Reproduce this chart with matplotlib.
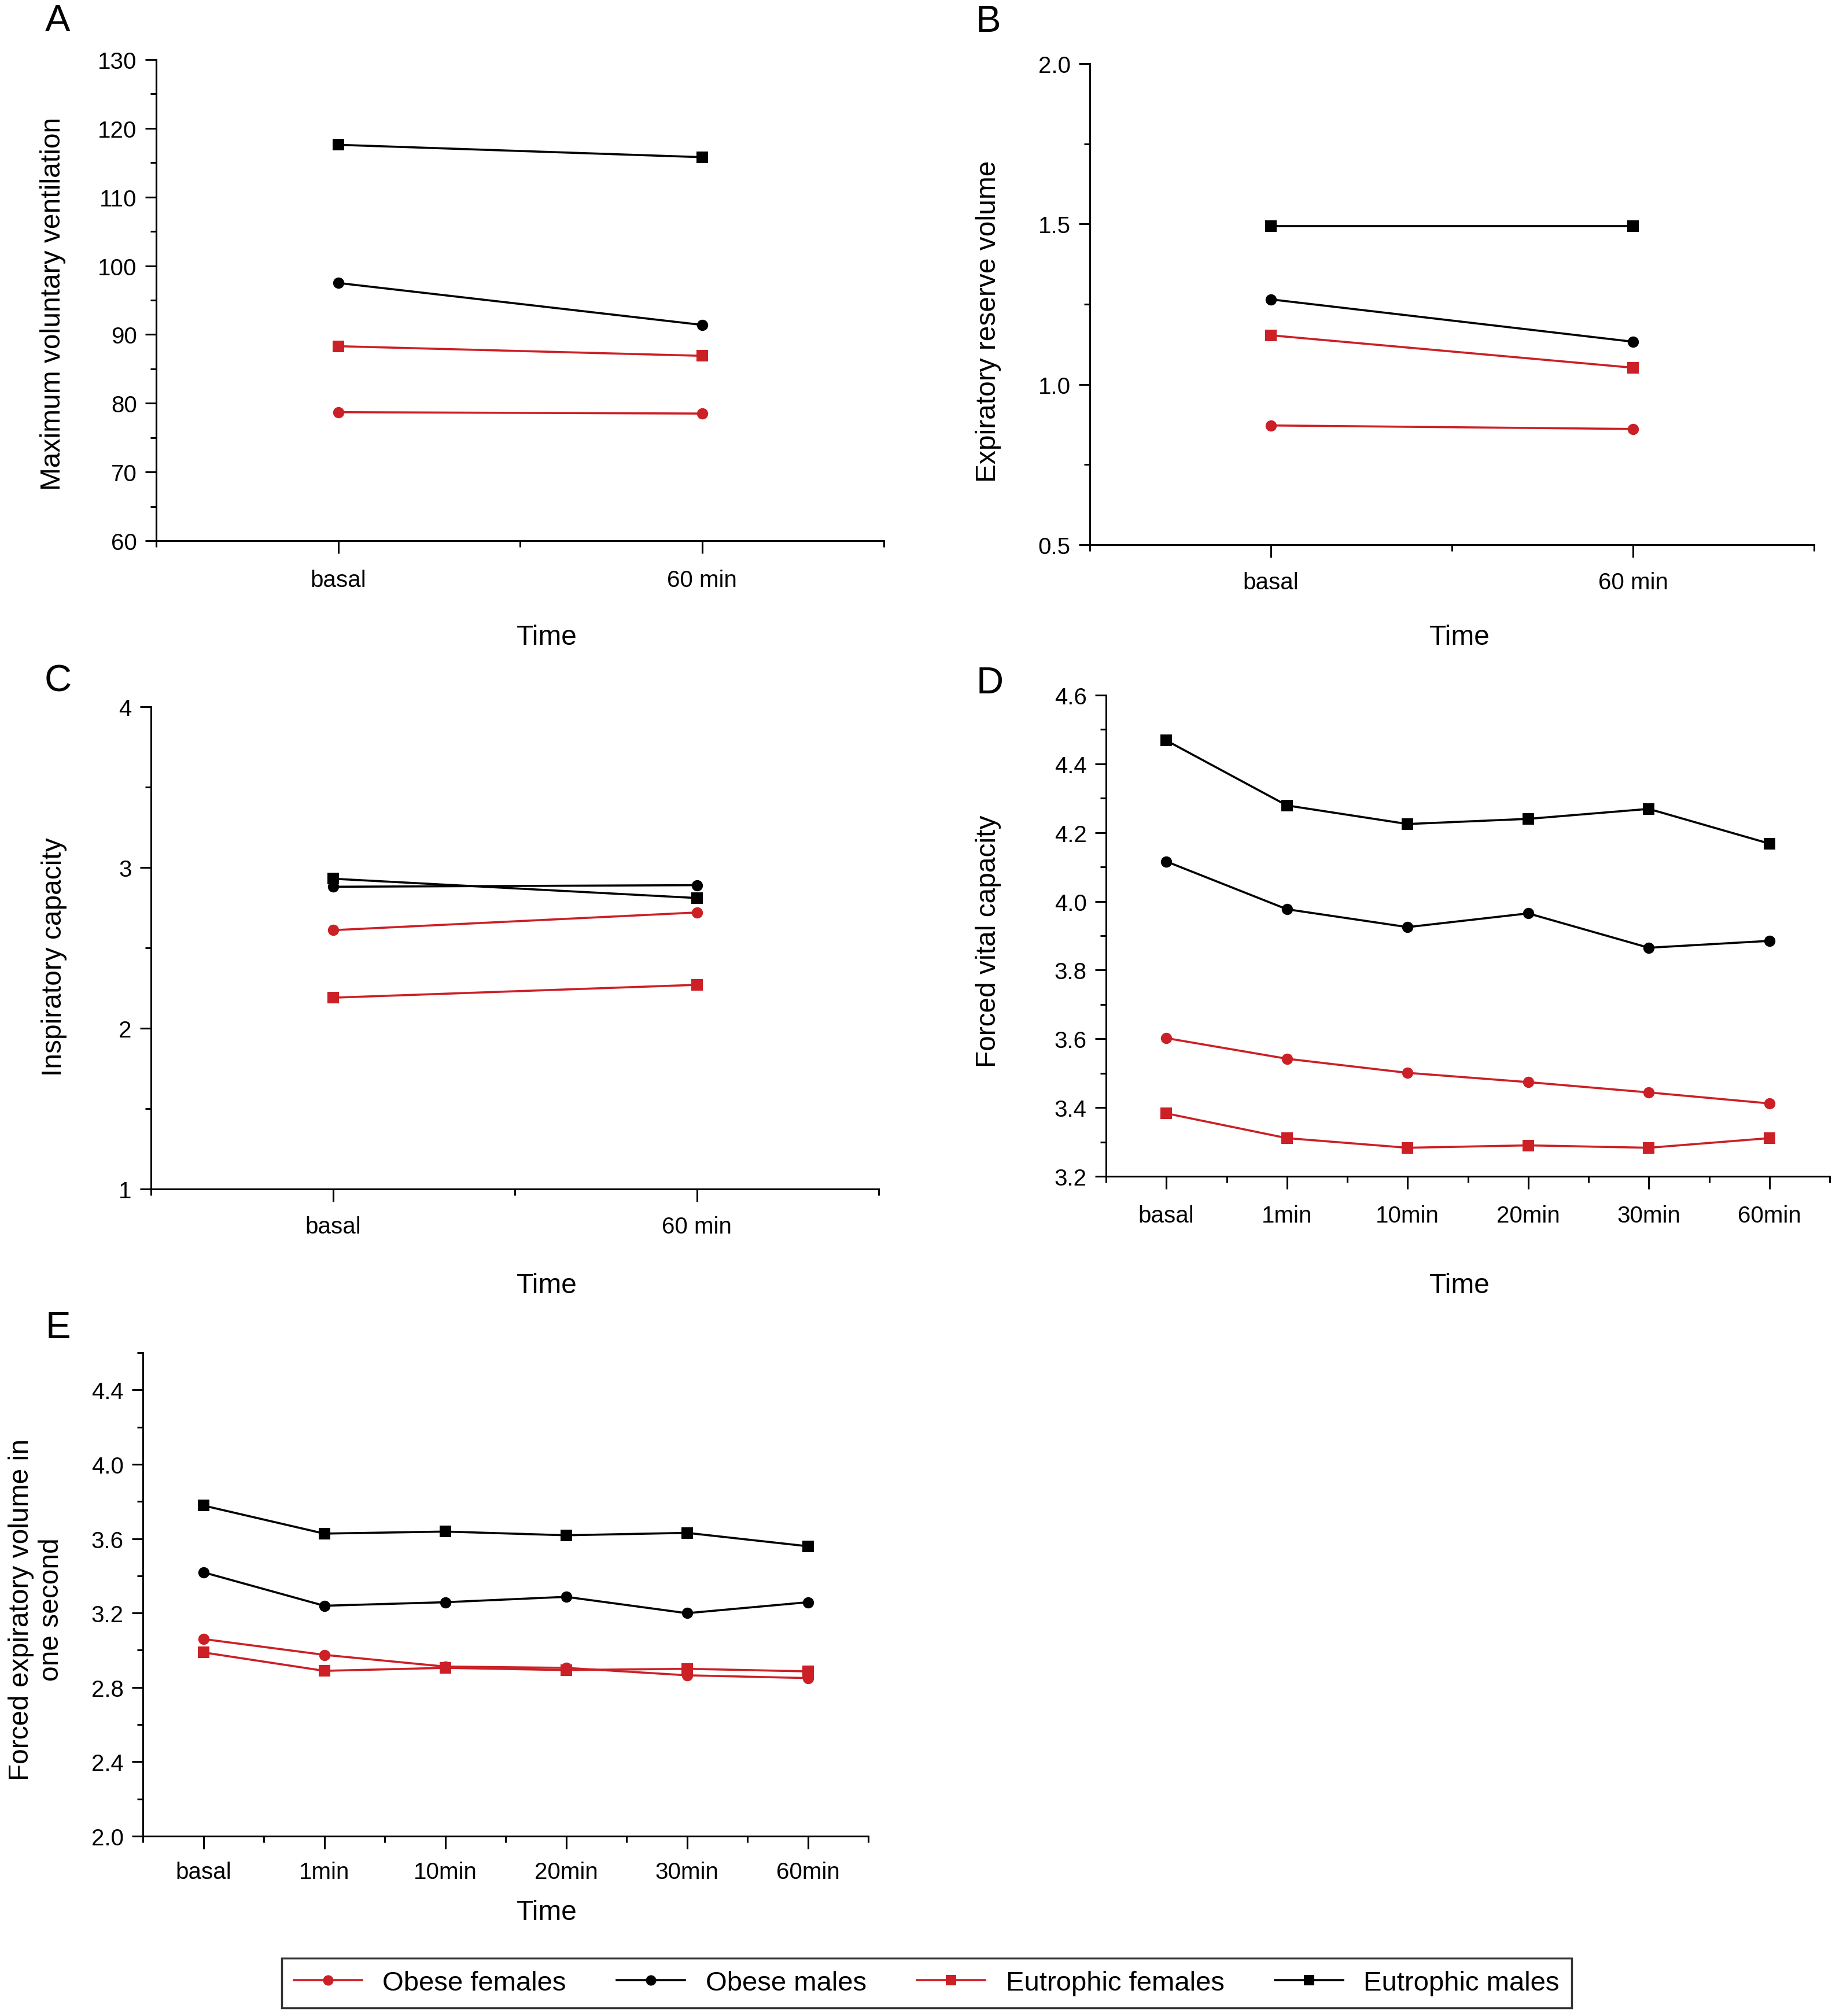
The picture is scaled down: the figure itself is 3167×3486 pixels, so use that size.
import numpy as np
import matplotlib
matplotlib.use('Agg')
import matplotlib.pyplot as plt
from matplotlib.ticker import MultipleLocator, FixedLocator, FormatStrFormatter
from matplotlib.lines import Line2D

plt.rcParams['font.family'] = ['Liberation Sans', 'DejaVu Sans']

RED = '#cc1f26'
BLACK = '#000000'

groups = ['Obese females', 'Obese males', 'Eutrophic females', 'Eutrophic males']
group_colors = [RED, BLACK, RED, BLACK]
group_markers = ['o', 'o', 's', 's']

times_short = ['basal', '60 min']
times_long = ['basal', '1min', '10min', '20min', '30min', '60min']

# A - maximum voluntary ventilation
mvv_obese_f = [78.7, 78.5]
mvv_obese_m = [97.5, 91.4]
mvv_eutro_f = [88.3, 86.9]
mvv_eutro_m = [117.6, 115.8]

# B - expiratory reserve volume
erv_obese_f = [0.872, 0.861]
erv_obese_m = [1.265, 1.133]
erv_eutro_f = [1.153, 1.052]
erv_eutro_m = [1.494, 1.494]

# C - inspiratory capacity
ic_obese_f = [2.61, 2.72]
ic_obese_m = [2.88, 2.89]
ic_eutro_f = [2.19, 2.27]
ic_eutro_m = [2.93, 2.81]

# D - forced vital capacity
fvc_obese_f = [3.602, 3.542, 3.501, 3.474, 3.444, 3.412]
fvc_obese_m = [4.116, 3.977, 3.925, 3.965, 3.865, 3.885]
fvc_eutro_f = [3.383, 3.311, 3.283, 3.290, 3.283, 3.311]
fvc_eutro_m = [4.468, 4.279, 4.225, 4.240, 4.269, 4.168]

# E - forced expiratory volume in one second
fev_obese_f = [3.060, 2.975, 2.912, 2.905, 2.865, 2.850]
fev_obese_m = [3.419, 3.239, 3.258, 3.287, 3.199, 3.258]
fev_eutro_f = [2.988, 2.889, 2.905, 2.893, 2.900, 2.886]
fev_eutro_m = [3.778, 3.627, 3.638, 3.618, 3.631, 3.559]


W, H, DPI = 3167, 3487, 100
fig = plt.figure(figsize=(W / DPI, H / DPI), dpi=DPI)


def px_axes(left, top, right, bottom):
    # axes rectangle given in pixel coords of the image
    return fig.add_axes([left / W, 1 - bottom / H, (right - left) / W, (bottom - top) / H])


def panel(ax, cats, series, ylim, major, minor, fmt, ylabel, ylab_pos, xlab_pos, xpad=19):
    x = np.arange(len(cats))
    # draw in reverse so black goes over red like the original
    for vals, c, m in list(zip(series, group_colors, group_markers))[::-1]:
        ax.plot(x, vals, color=c, marker=m, markersize=14, linewidth=2.6,
                markeredgewidth=0, clip_on=False)
    ax.set_xlim(-0.5, len(cats) - 0.5)
    ax.set_ylim(*ylim)
    ax.set_xticks(x)
    ax.set_xticklabels(cats)
    ax.xaxis.set_minor_locator(FixedLocator(np.arange(-0.5, len(cats), 1.0)))
    ax.yaxis.set_major_locator(MultipleLocator(major))
    ax.yaxis.set_minor_locator(MultipleLocator(minor))
    if fmt:
        ax.yaxis.set_major_formatter(FormatStrFormatter(fmt))
    for s in ('top', 'right'):
        ax.spines[s].set_visible(False)
    for s in ('left', 'bottom'):
        ax.spines[s].set_linewidth(2.2)
    ax.tick_params(axis='x', which='major', length=16, width=2.2, pad=xpad, labelsize=29)
    ax.tick_params(axis='x', which='minor', length=8, width=2.2)
    ax.tick_params(axis='y', which='major', length=14, width=2.2, pad=10, labelsize=29)
    ax.tick_params(axis='y', which='minor', length=7, width=2.2)
    ax.set_ylabel(ylabel, fontsize=34.5, va='center', ha='center')
    ax.yaxis.set_label_coords(*ylab_pos)
    ax.set_xlabel('Time', fontsize=34.5, va='center')
    ax.xaxis.set_label_coords(*xlab_pos)


axA = px_axes(270, 104, 1528, 936)
panel(axA, times_short, [mvv_obese_f, mvv_obese_m, mvv_eutro_f, mvv_eutro_m],
      (60, 130), 10, 5, None, 'Maximum voluntary ventilation',
      (-0.1415, 0.493), (0.537, -0.200))

axB = px_axes(1884, 111, 3136, 943)
panel(axB, times_short, [erv_obese_f, erv_obese_m, erv_eutro_f, erv_eutro_m],
      (0.5, 2.0), 0.5, 0.25, '%.1f', 'Expiratory reserve volume',
      (-0.140, 0.465), (0.511, -0.192), xpad=17)

axC = px_axes(261, 1223, 1519, 2057)
panel(axC, times_short, [ic_obese_f, ic_obese_m, ic_eutro_f, ic_eutro_m],
      (1, 4), 1, 0.5, None, 'Inspiratory capacity',
      (-0.1335, 0.482), (0.544, -0.200), xpad=17)

axD = px_axes(1912, 1203, 3163, 2035)
panel(axD, times_long, [fvc_obese_f, fvc_obese_m, fvc_eutro_f, fvc_eutro_m],
      (3.2, 4.6), 0.2, 0.1, '%.1f', 'Forced vital capacity',
      (-0.163, 0.489), (0.489, -0.227))

axE = px_axes(247, 2340, 1501, 3176)
panel(axE, times_long, [fev_obese_f, fev_obese_m, fev_eutro_f, fev_eutro_m],
      (2.0, 4.6), 0.4, 0.2, '%.1f', 'Forced expiratory volume in\none second',
      (-0.147, 0.47), (0.557, -0.157), xpad=15)
axE.yaxis.set_major_locator(FixedLocator([2.0, 2.4, 2.8, 3.2, 3.6, 4.0, 4.4]))

# panel letters
for letter, (cx, cy) in zip('ABCDE', [(100, 37), (1708, 38), (100, 1179), (1711, 1182), (100, 2297)]):
    fig.text(cx / W, 1 - cy / H, letter, fontsize=47, ha='center', va='center')

# shared legend
handles = [Line2D([], [], color=c, marker=m, markersize=13, linewidth=2.6, markeredgewidth=0)
           for c, m in zip(group_colors, group_markers)]
leg = fig.legend(handles, groups, loc='center', bbox_to_anchor=(1602 / W, 1 - 3430 / H),
                 ncol=4, frameon=True, fancybox=False, edgecolor='black', fontsize=34,
                 handlelength=2.5, handletextpad=0.75, columnspacing=1.85, borderpad=0.45,
                 borderaxespad=0)
leg.get_frame().set_linewidth(2.5)

fig.savefig('out.png', dpi=DPI)
